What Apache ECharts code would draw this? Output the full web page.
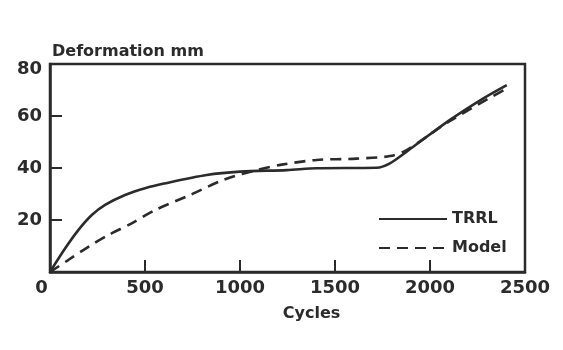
<!DOCTYPE html>
<html>
<head>
<meta charset="utf-8">
<script src="https://cdn.jsdelivr.net/npm/echarts@6/dist/echarts.min.js"></script>
<style>
  html, body { margin: 0; padding: 0; background: #ffffff; }
  #chart { width: 563px; height: 350px; }
</style>
</head>
<body>
<div id="chart"></div>
<script>
// Deformation against load cycles: TRRL measurements and model prediction
const xTicks = [0, 500, 1000, 1500, 2000, 2500];
const yTicks = [0, 20, 40, 60, 80];

const trrlCycles = [0, 80, 150, 220, 290, 395, 500, 600, 825, 1000, 1246, 1404, 1719, 1789, 1877, 2105, 2281, 2404];
const trrlMm     = [0, 9.1, 16.2, 21.9, 25.8, 29.6, 32.2, 34.0, 37.3, 38.6, 39.2, 39.9, 40.1, 41.8, 46.3, 58.5, 66.8, 71.9];

const modelCycles = [0, 96, 202, 307, 430, 553, 737, 912, 1088, 1228, 1404, 1614, 1789, 1877, 2105, 2404];
const modelMm     = [0, 4.6, 9.7, 14.2, 18.7, 23.8, 29.6, 35.4, 39.2, 41.4, 43.1, 43.6, 44.6, 46.9, 58.1, 70.6];

const ink = '#2b2b2b';
const font = 'DejaVu Sans';

const pairs = (xs, ys) => xs.map((x, i) => [x, ys[i]]);

const chart = echarts.init(document.getElementById('chart'), null, { renderer: 'canvas' });

chart.setOption({
  animation: false,
  backgroundColor: '#ffffff',
  title: {
    text: 'Deformation mm',
    left: 47,
    top: 39,
    textStyle: { fontFamily: font, fontWeight: 'bold', fontSize: 16, color: ink }
  },
  legend: {
    data: ['TRRL', 'Model'],
    orient: 'vertical',
    left: 373,
    top: 206,
    itemWidth: 68,
    itemHeight: 14,
    itemGap: 13,
    itemStyle: { opacity: 0 },
    textStyle: { fontFamily: font, fontWeight: 'bold', fontSize: 16, color: ink }
  },
  grid: {
    left: 50, right: 38, top: 64, bottom: 78,
    show: true,
    borderColor: ink,
    borderWidth: 2.5,
    backgroundColor: 'transparent'
  },
  xAxis: {
    type: 'value',
    min: xTicks[0],
    max: xTicks[xTicks.length - 1],
    interval: xTicks[1] - xTicks[0],
    name: 'Cycles',
    nameLocation: 'middle',
    nameGap: 34,
    nameTextStyle: { fontFamily: font, fontWeight: 'bold', fontSize: 16, color: ink, padding: [0, 0, 0, 48] },
    axisLine: { show: true, lineStyle: { color: ink, width: 2.5 } },
    axisTick: { show: true, inside: true, length: 12, lineStyle: { color: ink, width: 2 } },
    splitLine: { show: false },
    axisLabel: {
      margin: 7,
      fontFamily: font,
      fontWeight: 'bold',
      fontSize: 18,
      color: ink,
      formatter: v => v === 0 ? '{z|0}' : String(v),
      rich: { z: { fontFamily: font, fontWeight: 'bold', fontSize: 18, color: ink, padding: [0, 17, 0, 0] } }
    }
  },
  yAxis: {
    type: 'value',
    min: yTicks[0],
    max: yTicks[yTicks.length - 1],
    interval: yTicks[1] - yTicks[0],
    axisLine: { show: true, lineStyle: { color: ink, width: 2.5 } },
    axisTick: { show: true, inside: true, length: 12, lineStyle: { color: ink, width: 2 } },
    splitLine: { show: false },
    axisLabel: {
      margin: 8,
      fontFamily: font,
      fontWeight: 'bold',
      fontSize: 18,
      color: ink,
      formatter: v => v === 0 ? '' : (v === 80 ? '{t|80}' : String(v)),
      rich: { t: { fontFamily: font, fontWeight: 'bold', fontSize: 18, color: ink, padding: [10, 0, 0, 0] } }
    }
  },
  series: [
    {
      name: 'TRRL',
      type: 'line',
      data: pairs(trrlCycles, trrlMm),
      smooth: 0.3,
      showSymbol: false,
      symbol: 'none',
      lineStyle: { color: ink, width: 2.6, type: 'solid' },
      itemStyle: { color: ink }
    },
    {
      name: 'Model',
      type: 'line',
      data: pairs(modelCycles, modelMm),
      smooth: 0.3,
      showSymbol: false,
      symbol: 'none',
      lineStyle: { color: ink, width: 2.6, type: [11, 7] },
      itemStyle: { color: ink }
    }
  ]
});
</script>
</body>
</html>
